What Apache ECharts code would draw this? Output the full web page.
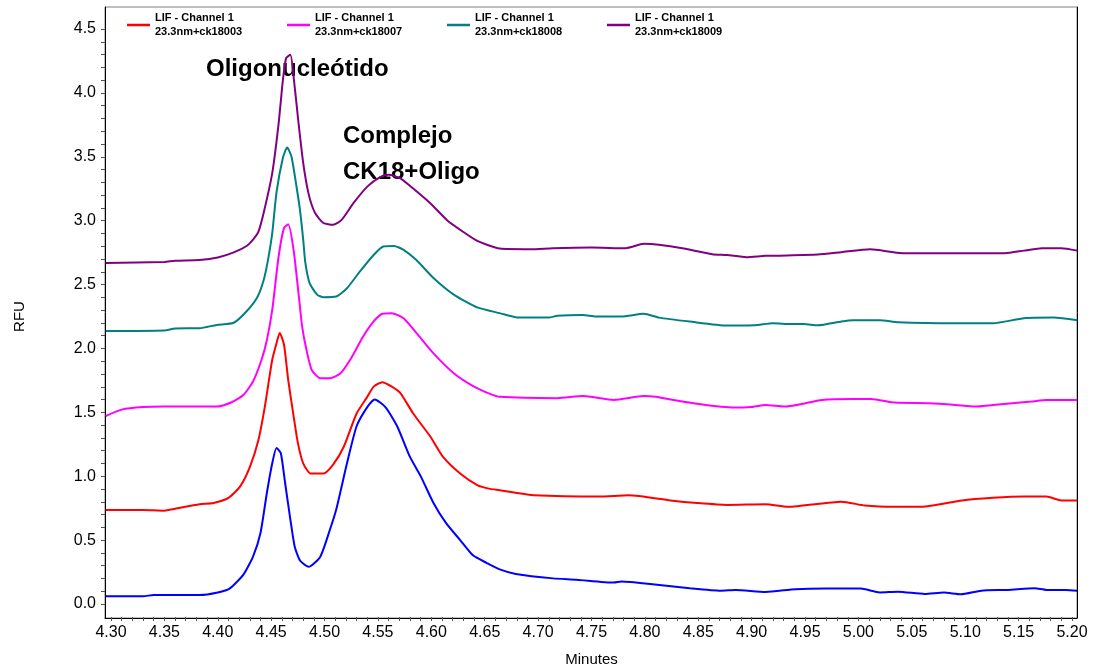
<!DOCTYPE html>
<html>
<head>
<meta charset="utf-8">
<script src="https://cdn.jsdelivr.net/npm/echarts@6/dist/echarts.min.js"></script>
<style>
  html, body { margin: 0; padding: 0; background: #fff; }
  #main { width: 1094px; height: 672px; }
</style>
</head>
<body>
<div id="main"></div>
<script>
// electroferogramas LIF, cada traza (minutos, RFU)
var blueX = [4.295,4.33,4.34,4.383,4.40,4.411,4.424,4.433,4.44,4.446,4.451,4.455,4.459,4.463,4.468,4.472,4.477,4.485,4.496,4.505,4.511,4.521,4.530,4.540,4.547,4.557,4.568,4.580,4.590,4.602,4.614,4.627,4.639,4.652,4.664,4.679,4.714,4.736,4.771,4.778,4.807,4.842,4.871,4.885,4.913,4.941,4.970,5.002,5.020,5.037,5.062,5.080,5.096,5.115,5.140,5.165,5.176,5.194,5.205];
var blueY = [0.06,0.06,0.07,0.07,0.09,0.12,0.23,0.37,0.555,0.87,1.10,1.22,1.18,0.95,0.66,0.45,0.34,0.29,0.37,0.58,0.74,1.10,1.39,1.54,1.60,1.54,1.39,1.15,1.00,0.79,0.63,0.50,0.38,0.32,0.27,0.235,0.20,0.19,0.167,0.175,0.154,0.123,0.104,0.11,0.094,0.115,0.12,0.12,0.09,0.096,0.078,0.089,0.076,0.104,0.11,0.123,0.11,0.11,0.104];

var redX = [4.295,4.33,4.35,4.36,4.383,4.396,4.41,4.421,4.43,4.438,4.444,4.451,4.455,4.458,4.462,4.466,4.471,4.475,4.48,4.487,4.499,4.508,4.518,4.530,4.54,4.546,4.554,4.563,4.571,4.583,4.599,4.611,4.627,4.643,4.655,4.664,4.679,4.696,4.757,4.785,4.824,4.849,4.877,4.913,4.934,4.984,5.006,5.034,5.059,5.097,5.126,5.155,5.176,5.19,5.205];
var redY = [0.735,0.735,0.73,0.745,0.78,0.79,0.83,0.92,1.07,1.28,1.54,1.91,2.04,2.12,2.03,1.75,1.47,1.26,1.10,1.02,1.02,1.09,1.23,1.49,1.62,1.70,1.735,1.70,1.65,1.49,1.31,1.15,1.02,0.93,0.90,0.89,0.87,0.85,0.84,0.85,0.81,0.79,0.775,0.78,0.76,0.80,0.77,0.76,0.76,0.81,0.83,0.84,0.84,0.81,0.81];

var magX = [4.295,4.31,4.33,4.35,4.383,4.399,4.413,4.424,4.433,4.441,4.446,4.451,4.457,4.462,4.466,4.471,4.476,4.479,4.483,4.488,4.496,4.505,4.515,4.524,4.536,4.546,4.554,4.563,4.574,4.586,4.602,4.621,4.64,4.655,4.664,4.718,4.742,4.771,4.799,4.810,4.835,4.857,4.885,4.899,4.913,4.931,4.966,4.995,5.012,5.034,5.066,5.091,5.109,5.126,5.162,5.176,5.205];
var magY = [1.47,1.52,1.54,1.544,1.544,1.544,1.578,1.635,1.74,1.91,2.065,2.30,2.72,2.94,2.97,2.77,2.40,2.17,1.99,1.83,1.766,1.766,1.805,1.91,2.09,2.21,2.27,2.275,2.235,2.12,1.96,1.805,1.70,1.643,1.62,1.61,1.627,1.596,1.627,1.62,1.583,1.557,1.536,1.54,1.557,1.544,1.596,1.604,1.604,1.575,1.57,1.557,1.544,1.557,1.583,1.596,1.596];

var tealX = [4.295,4.35,4.36,4.383,4.399,4.415,4.427,4.437,4.443,4.447,4.451,4.455,4.461,4.465,4.469,4.474,4.477,4.480,4.482,4.486,4.493,4.499,4.511,4.521,4.533,4.546,4.555,4.565,4.574,4.586,4.602,4.621,4.643,4.664,4.682,4.710,4.718,4.742,4.754,4.778,4.799,4.813,4.842,4.877,4.903,4.920,4.931,4.949,4.962,4.984,4.995,5.020,5.037,5.091,5.126,5.155,5.183,5.205];
var tealY = [2.135,2.14,2.155,2.157,2.183,2.20,2.29,2.40,2.535,2.69,2.90,3.22,3.49,3.57,3.50,3.25,3.08,2.85,2.67,2.51,2.42,2.40,2.405,2.47,2.60,2.73,2.796,2.80,2.77,2.69,2.55,2.42,2.32,2.275,2.24,2.24,2.254,2.26,2.248,2.248,2.27,2.24,2.209,2.178,2.18,2.196,2.19,2.19,2.18,2.21,2.22,2.22,2.204,2.196,2.196,2.235,2.24,2.22];

var purX = [4.295,4.35,4.36,4.383,4.40,4.415,4.427,4.433,4.438,4.443,4.451,4.457,4.461,4.464,4.468,4.471,4.475,4.48,4.485,4.491,4.499,4.508,4.516,4.527,4.540,4.552,4.56,4.571,4.583,4.599,4.615,4.63,4.643,4.664,4.693,4.714,4.750,4.782,4.799,4.813,4.835,4.863,4.877,4.895,4.913,4.962,4.984,5.011,5.041,5.091,5.137,5.155,5.172,5.190,5.205];
var purY = [2.668,2.676,2.685,2.69,2.71,2.75,2.80,2.85,2.91,3.06,3.37,3.76,4.10,4.27,4.296,4.126,3.81,3.45,3.21,3.06,2.98,2.966,3.005,3.135,3.265,3.34,3.357,3.33,3.25,3.135,3.00,2.91,2.84,2.78,2.775,2.783,2.788,2.783,2.817,2.81,2.783,2.736,2.73,2.713,2.723,2.733,2.752,2.775,2.744,2.744,2.744,2.764,2.783,2.783,2.764];

var names = [
  'LIF - Channel 1\n23.3nm+ck18003',
  'LIF - Channel 1\n23.3nm+ck18007',
  'LIF - Channel 1\n23.3nm+ck18008',
  'LIF - Channel 1\n23.3nm+ck18009'
];
var colors = ['#ff0000', '#ff00ff', '#008080', '#800080'];

(function() {
  var myChart = echarts.init(document.getElementById('main'));

  function pairs(xs, ys) {
    var res = [];
    for (var i = 0; i < xs.length; i++) res.push([xs[i], ys[i]]);
    return res;
  }
  function mkLine(name, color, xs, ys) {
    return {
      name: name,
      type: 'line',
      xAxisIndex: 0,
      yAxisIndex: 0,
      showSymbol: false,
      symbol: 'none',
      smooth: 0.2,
      lineStyle: { width: 2, color: color },
      itemStyle: { color: color },
      data: pairs(xs, ys)
    };
  }
  function mkLegend(i, left) {
    return {
      data: [names[i]],
      left: left,
      top: 11,
      padding: 0,
      icon: 'rect',
      itemWidth: 23,
      itemHeight: 2.5,
      selectedMode: false,
      textStyle: { fontSize: 11, fontWeight: 'bold', color: '#000', lineHeight: 14 }
    };
  }

  var tickStyle = { color: '#555' };
  var frameLine = { show: true, onZero: false, lineStyle: { color: '#000', width: 1 } };

  var option = {
    animation: false,
    textStyle: { fontFamily: 'Liberation Sans, Arial, sans-serif' },
    legend: [mkLegend(0, 127), mkLegend(1, 287), mkLegend(2, 447), mkLegend(3, 607)],
    grid: [
      // marco de datos
      { left: 105, right: 17, top: 7, bottom: 54, show: true, borderColor: '#808080', borderWidth: 1 },
      // eje de minutos
      { left: 111, right: 22, top: 7, bottom: 54 },
      // eje de RFU
      { left: 105, right: 17, top: 29, bottom: 68 }
    ],
    xAxis: [
      { gridIndex: 0, type: 'value', min: 4.29438, max: 5.20468,
        axisLine: frameLine,
        axisTick: { show: false }, axisLabel: { show: false }, splitLine: { show: false } },
      { gridIndex: 1, type: 'value', min: 4.30, max: 5.20, interval: 0.05,
        name: 'Minutes', nameLocation: 'middle', nameGap: 35,
        nameTextStyle: { fontSize: 15, color: '#000' },
        axisLine: { show: false, onZero: false },
        axisTick: { show: true, length: 4, lineStyle: tickStyle },
        minorTick: { show: true, splitNumber: 5, length: 4, lineStyle: tickStyle },
        axisLabel: { fontSize: 16, color: '#000', margin: 8,
          formatter: function(v) { return v.toFixed(2); } },
        splitLine: { show: false } },
      { gridIndex: 2, type: 'value', show: false, min: 0, max: 1 }
    ],
    yAxis: [
      { gridIndex: 0, type: 'value', min: -0.11, max: 4.67,
        axisLine: frameLine,
        axisTick: { show: false }, axisLabel: { show: false }, splitLine: { show: false } },
      { gridIndex: 1, type: 'value', show: false, min: 0, max: 1 },
      { gridIndex: 2, type: 'value', min: 0, max: 4.5, interval: 0.5,
        name: 'RFU', nameLocation: 'middle', nameGap: 78,
        nameTextStyle: { fontSize: 15, color: '#000' },
        axisLine: { show: false, onZero: false },
        axisTick: { show: true, length: 4, lineStyle: tickStyle },
        minorTick: { show: true, splitNumber: 5, length: 4, lineStyle: tickStyle },
        axisLabel: { fontSize: 16, color: '#000', margin: 9,
          formatter: function(v) { return v.toFixed(1); } },
        splitLine: { show: false } },
      { gridIndex: 0, type: 'value', position: 'right', min: -0.11, max: 4.67,
        axisLine: frameLine,
        axisTick: { show: false }, axisLabel: { show: false }, splitLine: { show: false } }
    ],
    graphic: [
      { type: 'text', left: 206, top: 57,
        style: { text: 'Oligonucleótido', font: 'bold 24px Liberation Sans', fill: '#000' } },
      { type: 'text', left: 343, top: 124,
        style: { text: 'Complejo', font: 'bold 24px Liberation Sans', fill: '#000' } },
      { type: 'text', left: 343, top: 160,
        style: { text: 'CK18+Oligo', font: 'bold 24px Liberation Sans', fill: '#000' } }
    ],
    series: [
      mkLine('LIF - Channel 1\n23.3nm', '#0000ff', blueX, blueY),
      mkLine(names[0], colors[0], redX, redY),
      mkLine(names[1], colors[1], magX, magY),
      mkLine(names[2], colors[2], tealX, tealY),
      mkLine(names[3], colors[3], purX, purY)
    ]
  };
  myChart.setOption(option);
  window.addEventListener('resize', function() {
    myChart.resize();
  });
})();
</script>
</body>
</html>
